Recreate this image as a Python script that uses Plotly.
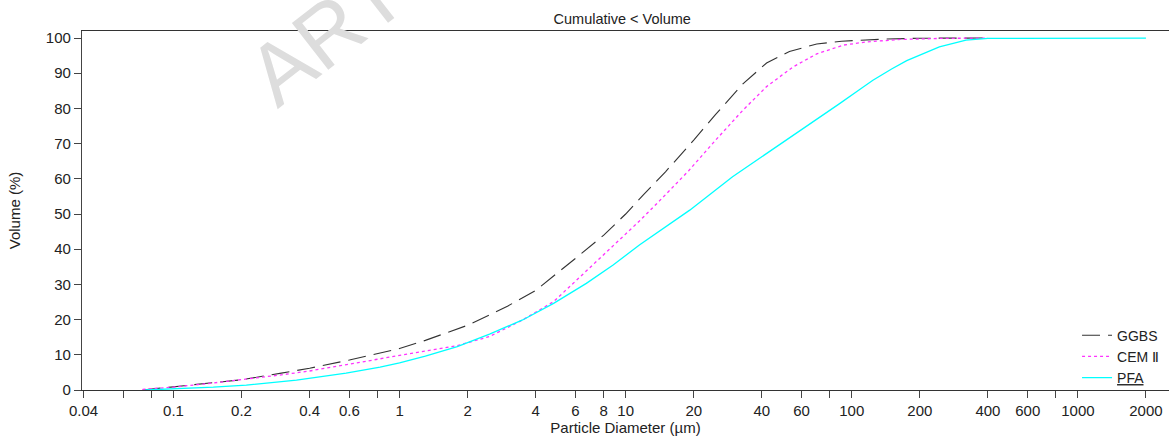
import plotly.graph_objects as go

# ---- data ----
ggbs_d = [0.073, 0.1, 0.15, 0.2, 0.3, 0.4, 0.6, 0.8, 1, 1.3, 2, 2.5, 3, 4, 5, 6, 8, 10, 12, 15, 20, 25, 33, 42, 53, 70, 90, 140, 200, 400]
ggbs_v = [0, 0.9, 2.0, 2.9, 4.8, 6.2, 8.5, 10.3, 11.8, 14.1, 18.4, 21.3, 23.8, 28.3, 33.2, 37.4, 44.0, 50.0, 55.5, 62.0, 71.0, 78.3, 87.0, 92.9, 96.2, 98.3, 99.1, 99.7, 99.95, 100]

cem_d = [0.073, 0.1, 0.15, 0.2, 0.3, 0.4, 0.6, 0.8, 1, 1.2, 1.8, 2.5, 3.5, 4.8, 6.25, 8.2, 11.5, 14, 19, 25, 33, 42, 55, 70, 92, 116, 165, 250, 400]
cem_v = [0.2, 0.8, 2.0, 2.9, 4.3, 5.4, 7.4, 8.8, 9.9, 10.7, 12.6, 15.2, 19.9, 25.1, 32.0, 39.0, 48.0, 53.5, 62.3, 71.0, 79.5, 86.2, 91.8, 95.5, 98.0, 98.9, 99.6, 99.9, 100]

pfa_d = [0.075, 0.093, 0.15, 0.21, 0.35, 0.58, 0.82, 1.0, 1.3, 1.8, 2.5, 3.5, 4.8, 6.7, 8.8, 11.5, 19.2, 29.7, 46.4, 70, 88, 108, 124, 150, 175, 244, 320, 400, 2000]
pfa_v = [0, 0.2, 0.8, 1.4, 2.8, 4.8, 6.5, 7.7, 9.6, 12.3, 15.9, 19.9, 24.6, 30.3, 35.5, 41.2, 51.1, 60.6, 69.1, 76.7, 81.3, 85.3, 88.0, 91.2, 93.6, 97.5, 99.4, 99.9, 100]

tick_vals = [0.04, 0.06, 0.08, 0.1, 0.2, 0.4, 0.6, 0.8, 1, 2, 4, 6, 8, 10, 20, 40, 60, 80, 100, 200, 400, 600, 800, 1000, 2000]
tick_text = ["0.04", "", "", "0.1", "0.2", "0.4", "0.6", "", "1", "2", "4", "6", "8", "10", "20", "40", "60", "", "100", "200", "400", "600", "", "1000", "2000"]

FONT = "Arial, Liberation Sans, DejaVu Sans, sans-serif"
TXT = "#222222"

fig = go.Figure()
fig.add_trace(go.Scatter(x=ggbs_d, y=ggbs_v, mode="lines", name="GGBS",
                         line=dict(color="#333333", width=1.1, dash="18px,8px")))
fig.add_trace(go.Scatter(x=cem_d, y=cem_v, mode="lines", name="CEM Ⅱ",
                         line=dict(color="#ff33ff", width=1.3, dash="3px,3px")))
fig.add_trace(go.Scatter(x=pfa_d, y=pfa_v, mode="lines", name="<u>PFA</u>",
                         line=dict(color="#00ffff", width=1.3)))

fig.update_layout(
    width=1169, height=437,
    margin=dict(l=81.5, r=0, t=31, b=47),
    paper_bgcolor="white", plot_bgcolor="white",
    font=dict(family=FONT, size=15, color=TXT),
    title=dict(text="Cumulative &lt; Volume", font=dict(size=14.5, color=TXT),
               x=0.497, xref="paper", xanchor="center",
               y=1 - 19 / 437, yref="container", yanchor="middle"),
    showlegend=True,
    legend=dict(x=0.9154, y=-0.01, xanchor="left", yanchor="bottom",
                bgcolor="rgba(0,0,0,0)", font=dict(size=14, color=TXT),
                tracegroupgap=0, itemwidth=30),
)

fig.update_xaxes(type="log", range=[-1.4045, 3.403],
                 tickmode="array", tickvals=tick_vals, ticktext=tick_text,
                 ticks="outside", ticklen=7, tickcolor="#444444",
                 showline=True, linecolor="#333333", linewidth=1.2, mirror=True,
                 showgrid=False, zeroline=False,
                 tickfont=dict(size=15, color=TXT),
                 title=dict(text="Particle Diameter (µm)", font=dict(size=15, color=TXT), standoff=2))

fig.update_yaxes(range=[0, 102], tickmode="linear", tick0=0, dtick=10,
                 ticks="outside", ticklen=7, tickcolor="#444444",
                 showline=True, linecolor="#444444", linewidth=1.2,
                 showgrid=False, zeroline=False,
                 tickfont=dict(size=15, color=TXT),
                 title=dict(text="Volume (%)", font=dict(size=15, color=TXT), standoff=21))

# watermark
fig.add_annotation(text="ART", xref="paper", yref="paper",
                   x=(326 - 81.5) / 1087.5, y=(390 - 33) / 359,
                   xanchor="center", yanchor="middle", textangle=-38,
                   showarrow=False, font=dict(size=86, color="#dddddd", family=FONT))

fig.write_html("out.html")
